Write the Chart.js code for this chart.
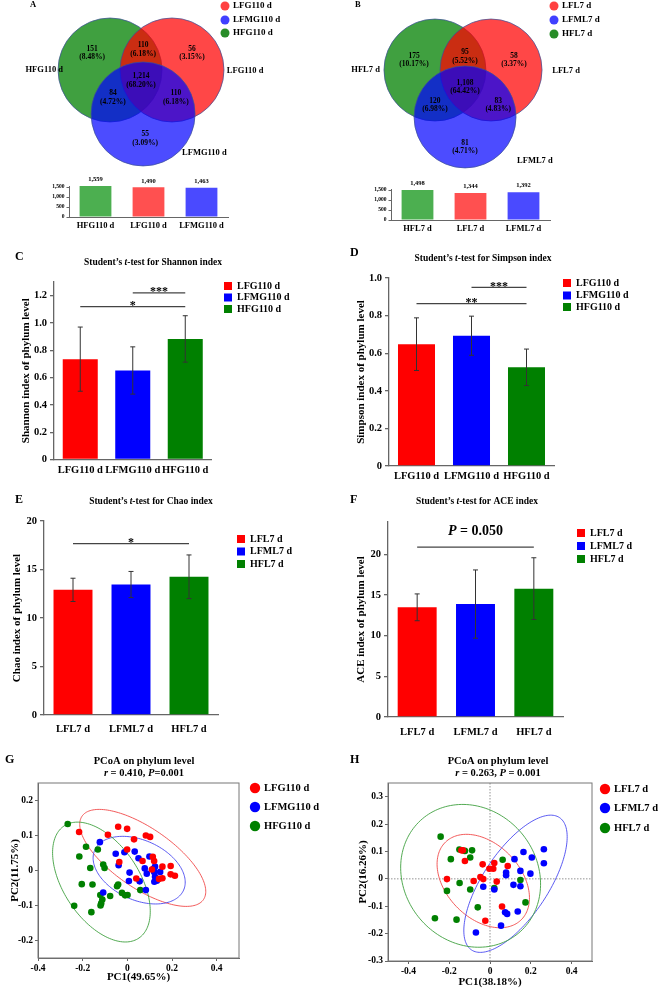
<!DOCTYPE html>
<html><head><meta charset="utf-8">
<script src="https://cdn.jsdelivr.net/npm/chart.js@4.4.1/dist/chart.umd.min.js"></script>
<style>
html,body{margin:0;padding:0;background:#fff;width:660px;height:992px;overflow:hidden;position:relative}
canvas{position:absolute}
</style></head><body>
<script>
// ================= DATA =================
const groups110 = ['LFG110 d', 'LFMG110 d', 'HFG110 d'];
const groups7 = ['LFL7 d', 'LFML7 d', 'HFL7 d'];

const vennA_sets = ['HFG110 d', 'LFG110 d', 'LFMG110 d'];
const vennA_counts = [151, 110, 56, 1214, 84, 110, 55];
const vennA_pct = ['8.48%', '6.18%', '3.15%', '68.20%', '4.72%', '6.18%', '3.09%'];
const vennA_totals = [1559, 1490, 1463];

const vennB_sets = ['HFL7 d', 'LFL7 d', 'LFML7 d'];
const vennB_counts = [175, 95, 58, 1108, 120, 83, 81];
const vennB_pct = ['10.17%', '5.52%', '3.37%', '64.42%', '6.98%', '4.83%', '4.71%'];
const vennB_totals = [1498, 1344, 1392];

const shannonMean = [0.735, 0.652, 0.883];
const shannonSD = [0.235, 0.173, 0.170];
const simpsonMean = [0.648, 0.693, 0.525];
const simpsonSD = [0.140, 0.104, 0.097];
const chaoMean = [12.9, 13.45, 14.25];
const chaoSD = [1.2, 1.35, 2.25];
const aceMean = [13.5, 13.9, 15.8];
const aceSD = [1.65, 4.2, 3.8];

// significance: [from group, to group, bar height value, label]
const sigShannon = [[1, 2, 1.22, '***'], [0, 2, 1.12, '*']];
const sigSimpson = [[1, 2, 0.95, '***'], [0, 2, 0.864, '**']];
const sigChao = [[0, 2, 17.66, '*']];
const sigACE = [[0, 2, 20.9, 'P = 0.050']];

const ticksShannon = [0, 0.2, 0.4, 0.6, 0.8, 1, 1.2];
const ticksSimpson = [0, 0.2, 0.4, 0.6, 0.8, 1];
const ticksChao = [0, 5, 10, 15, 20];
const ticksACE = [0, 5, 10, 15, 20];
const ticksVennBar = [0, 500, 1000, 1500];
const ticksPC1 = [-0.4, -0.2, 0, 0.2, 0.4];
const ticksPC2G = [-0.2, -0.1, 0, 0.1, 0.2];
const ticksPC2H = [-0.3, -0.2, -0.1, 0, 0.1, 0.2, 0.3];

// PCoA 110 d (G)
const pcoaG_LFG_x = [-0.216,-0.041,-0.001,-0.087,0.083,0.102,0.030,-0.001,0.114,0.068,0.120,-0.036,0.157,0.194,0.110,0.194,0.213,0.040,0.157,0.142];
const pcoaG_LFG_y = [0.110,0.125,0.119,0.102,0.100,0.096,0.089,0.060,0.039,0.027,0.027,0.024,0.011,0.013,0.003,-0.011,-0.015,-0.023,-0.022,-0.024];
const pcoaG_LFMG_x = [-0.123,-0.052,-0.013,0.033,-0.039,0.050,0.099,0.078,0.087,0.117,0.124,0.120,0.147,0.124,0.132,0.121,0.010,0.007,0.055,-0.108,0.083];
const pcoaG_LFMG_y = [0.081,0.048,0.052,0.054,0.015,0.035,0.040,0.006,-0.009,0.005,0.011,-0.004,-0.004,-0.018,-0.029,-0.032,-0.006,-0.030,-0.031,-0.063,-0.056];
const pcoaG_HFG_x = [-0.267,-0.185,-0.132,-0.215,-0.166,-0.108,-0.102,-0.204,-0.156,-0.041,-0.046,-0.121,-0.112,-0.120,-0.117,-0.077,-0.024,-0.010,0.001,0.058,-0.238,-0.161];
const pcoaG_HFG_y = [0.133,0.068,0.060,0.040,0.007,0.017,0.007,-0.039,-0.040,-0.040,-0.045,-0.070,-0.083,-0.100,-0.094,-0.073,-0.064,-0.071,-0.070,-0.056,-0.101,-0.119];
// confidence ellipses: [cx, cy, ux, uy, vx, vy]
const ellG_LFG = [0.069, 0.036, 0.272, -0.119, -0.075, -0.071];
const ellG_LFMG = [0.053, 0.001, 0.199, -0.057, -0.054, -0.078];
const ellG_HFG = [-0.116, -0.033, 0.168, -0.160, -0.140, -0.061];

// PCoA 7 d (H)
const pcoaH_LFL_x = [-0.133,-0.140,-0.123,-0.036,0.021,-0.003,0.016,0.087,-0.211,-0.080,-0.047,-0.033,0.033,0.059,-0.023];
const pcoaH_LFL_y = [0.104,0.104,0.065,0.053,0.058,0.037,0.037,0.047,-0.001,-0.008,0.007,-0.001,-0.010,-0.101,-0.153];
const pcoaH_LFML_x = [0.164,0.264,0.205,0.264,0.120,0.079,0.079,0.149,0.198,0.115,0.149,-0.033,0.021,0.074,0.084,0.136,0.054,-0.069];
const pcoaH_LFML_y = [0.098,0.108,0.078,0.057,0.072,0.023,0.013,0.029,0.019,-0.022,-0.027,-0.029,-0.039,-0.122,-0.128,-0.119,-0.171,-0.196];
const pcoaH_HFL_x = [-0.242,-0.150,-0.123,-0.088,-0.192,-0.097,0.062,-0.149,-0.097,-0.211,0.021,0.149,0.174,-0.060,-0.270,-0.164];
const pcoaH_HFL_y = [0.154,0.107,0.102,0.104,0.072,0.078,0.070,-0.015,-0.039,-0.044,-0.034,-0.004,-0.086,-0.104,-0.144,-0.149];
const ellH_LFL = [-0.033, -0.008, 0.184, -0.143, -0.132, -0.093];
const ellH_LFML = [0.125, -0.018, 0.215, 0.242, 0.134, -0.065];
const ellH_HFL = [-0.095, 0.011, 0.227, -0.214, -0.257, -0.149];

// ================= STYLE / LAYOUT =================
const SERIF = "'Liberation Serif','Times New Roman',serif";
Chart.defaults.font.family = SERIF;
Chart.defaults.font.weight = 'bold';
Chart.defaults.color = '#000';
Chart.defaults.animation = false;

const C_RED = '#ff0000', C_BLUE = '#0000ff', C_GREEN = '#008000';
const vennFill = ['rgba(0,128,0,0.75)', 'rgba(255,0,0,0.72)', 'rgba(0,0,255,0.70)'];
const vennLegendCol = ['rgb(255,64,64)', 'rgb(64,64,255)', 'rgb(40,140,40)'];
const vennBarCol = ['#4caf50', '#ff5050', '#4a4aff'];

function mk(x, y, w, h) {
  const c = document.createElement('canvas');
  c.width = w; c.height = h;
  c.style.left = x + 'px'; c.style.top = y + 'px';
  c.style.width = w + 'px'; c.style.height = h + 'px';
  document.body.appendChild(c);
  return c;
}
function F(size, italic) { return (italic ? 'italic ' : '') + 'bold ' + size + 'px ' + SERIF; }
function rich(ctx, parts, x, y, size, align) {
  let total = 0;
  parts.forEach(p => { ctx.font = F(size, p[1]); total += ctx.measureText(p[0]).width; });
  let cx = align === 'center' ? x - total / 2 : (align === 'right' ? x - total : x);
  ctx.textAlign = 'left'; ctx.textBaseline = 'middle'; ctx.fillStyle = '#000';
  parts.forEach(p => { ctx.font = F(size, p[1]); ctx.fillText(p[0], cx, y); cx += ctx.measureText(p[0]).width; });
}
function txt(ctx, s, x, y, size, align) {
  ctx.font = F(size); ctx.textAlign = align || 'center'; ctx.textBaseline = 'middle'; ctx.fillStyle = '#000';
  ctx.fillText(s, x, y);
}
const baseOpts = { responsive: false, animation: false, devicePixelRatio: 1, events: [],
  plugins: { legend: { display: false }, tooltip: { enabled: false } } };

// ---------- Venn ----------
function vennPanel(o) {
  const cv = mk(o.ox, o.oy, o.w, o.h);
  new Chart(cv, {
    type: 'scatter',
    data: { datasets: [{
      data: o.cx.map((x, i) => ({ x, y: o.cy[i] })),
      backgroundColor: vennFill, borderColor: 'rgba(60,80,150,0.9)', borderWidth: 0.8,
      pointRadius: c => { const s = c.chart.scales.x; return s.getPixelForValue(1) - s.getPixelForValue(0); }
    }] },
    options: Object.assign({}, baseOpts, {
      layout: { padding: 0, autoPadding: false },
      scales: { x: { display: false, min: o.xr[0], max: o.xr[1] }, y: { display: false, min: o.yr[0], max: o.yr[1] } }
    }),
    plugins: [{ id: 'venntext', afterDraw(chart) {
      const ctx = chart.ctx, xs = chart.scales.x, ys = chart.scales.y;
      o.counts.forEach((n, i) => {
        const px = xs.getPixelForValue(o.lab[i][0]), py = ys.getPixelForValue(o.lab[i][1]);
        txt(ctx, n.toLocaleString('en-US'), px, py - 4.2, 7.5);
        txt(ctx, '(' + o.pct[i] + ')', px, py + 4.2, 7.5);
      });
      o.sets.forEach((s, i) => {
        const p = o.setPos[i];
        txt(ctx, s, xs.getPixelForValue(p[1]), ys.getPixelForValue(p[2]), 8.5, p[0]);
      });
      ctx.save(); ctx.translate(-o.ox, -o.oy);
      txt(ctx, o.letter, o.letterPos[0], o.letterPos[1], 8.5, 'left');
      o.legend.forEach((s, i) => {
        ctx.beginPath(); ctx.fillStyle = vennLegendCol[i];
        ctx.arc(o.legX, o.legY[i], 4.5, 0, Math.PI * 2); ctx.fill();
        txt(ctx, s, o.legX + 8, o.legY[i], 9, 'left');
      });
      ctx.restore();
    } }]
  });
}
function vennBars(o) {
  const cv = mk(o.ox, o.oy, o.w, o.h);
  new Chart(cv, {
    type: 'bar',
    data: { labels: o.labels, datasets: [{ data: o.values, backgroundColor: vennBarCol, barPercentage: 0.6, categoryPercentage: 1 }] },
    options: Object.assign({}, baseOpts, {
      layout: { padding: { left: 0, top: o.T - o.oy, right: o.ox + o.w - o.R, bottom: 0 } },
      scales: {
        x: { grid: { display: false, drawTicks: false }, border: { color: '#666', width: 1 },
             ticks: { font: { size: 8.5 }, padding: o.xPad, maxRotation: 0, autoSkip: false },
             afterFit: s => { s.height = o.oy + o.h - o.B; } },
        y: { min: 0, max: 1550, afterBuildTicks: s => { s.ticks = ticksVennBar.map(v => ({ value: v })); },
             grid: { drawOnChartArea: false, drawTicks: true, tickLength: 2.5, color: '#666' },
             border: { color: '#666', width: 1 }, ticks: { font: { size: 5.5 }, padding: 2 },
             afterFit: s => { s.width = o.L - o.ox; } }
      }
    }),
    plugins: [{ id: 'vals', afterDraw(chart) {
      const ctx = chart.ctx, xs = chart.scales.x, ys = chart.scales.y;
      o.values.forEach((v, i) => txt(ctx, v.toLocaleString('en-US'), xs.getPixelForValue(i), ys.getPixelForValue(v) - o.valOff, 6.5));
    } }]
  });
}

// ---------- bar panels ----------
function barPanel(o) {
  const cv = mk(o.ox, o.oy, o.w, o.h);
  const colors = [C_RED, C_BLUE, C_GREEN];
  new Chart(cv, {
    type: 'bar',
    data: { labels: o.labels, datasets: [{ data: o.means, backgroundColor: colors, barPercentage: o.barPct, categoryPercentage: 1 }] },
    options: Object.assign({}, baseOpts, {
      layout: { padding: { left: 0, top: o.T - o.oy, right: o.ox + o.w - o.R, bottom: 0 } },
      scales: {
        x: { grid: { display: false, drawTicks: false }, border: { color: '#666', width: 1.3 },
             ticks: { font: { size: 10.5 }, padding: o.xPad, maxRotation: 0, autoSkip: false },
             afterFit: s => { s.height = o.oy + o.h - o.B; } },
        y: { min: 0, max: o.ymax, afterBuildTicks: s => { s.ticks = o.yticks.map(v => ({ value: v })); },
             grid: { drawOnChartArea: false, drawTicks: true, tickLength: 4, color: '#666', lineWidth: 1.3 },
             border: { color: '#666', width: 1.3 }, ticks: { font: { size: 10.5 }, padding: 3 },
             title: { display: true, text: o.ytitle, font: { size: 11 }, padding: { top: o.ytPad, bottom: 0 } },
             afterFit: s => { s.width = o.L - o.ox; } }
      }
    }),
    plugins: [{ id: 'deco', afterDraw(chart) {
      const ctx = chart.ctx, xs = chart.scales.x, ys = chart.scales.y;
      ctx.save();
      ctx.strokeStyle = '#333'; ctx.lineWidth = 1;
      o.means.forEach((m, i) => {
        const px = xs.getPixelForValue(i), y1 = ys.getPixelForValue(m - o.sds[i]), y2 = ys.getPixelForValue(m + o.sds[i]);
        ctx.beginPath(); ctx.moveTo(px, y1); ctx.lineTo(px, y2);
        ctx.moveTo(px - 2.5, y1); ctx.lineTo(px + 2.5, y1); ctx.moveTo(px - 2.5, y2); ctx.lineTo(px + 2.5, y2);
        ctx.stroke();
      });
      o.sig.forEach(sg => {
        const xa = xs.getPixelForValue(sg[0]), xb = xs.getPixelForValue(sg[1]), py = ys.getPixelForValue(sg[2]);
        ctx.strokeStyle = '#444'; ctx.lineWidth = 1.3;
        ctx.beginPath(); ctx.moveTo(xa, py); ctx.lineTo(xb, py); ctx.stroke();
        if (sg[3].startsWith('P')) {
          rich(ctx, [['P', 1], [sg[3].slice(1), 0]], (xa + xb) / 2, py - 16, 14, 'center');
        } else {
          ctx.font = F(12); ctx.textAlign = 'center'; ctx.textBaseline = 'alphabetic'; ctx.fillStyle = '#000';
          ctx.fillText(sg[3], (xa + xb) / 2, py + 2.5);
        }
      });
      ctx.restore();
      ctx.save(); ctx.translate(-o.ox, -o.oy);
      txt(ctx, o.letter, o.letterPos[0], o.letterPos[1], 12, 'left');
      rich(ctx, [['Student\u2019s ', 0], ['t', 1], ['-test for ' + o.index + ' index', 0]], o.titlePos[0], o.titlePos[1], 9.5, 'center');
      o.labels.forEach((s, i) => {
        ctx.fillStyle = colors[i];
        ctx.fillRect(o.legX, o.legY[i] - 4, 8, 8);
        txt(ctx, s, o.legX + 13, o.legY[i], 10, 'left');
      });
      ctx.restore();
    } }]
  });
}

// ---------- PCoA panels ----------
function pcoaPanel(o) {
  const cv = mk(o.ox, o.oy, o.w, o.h);
  const cols = [C_RED, C_BLUE, C_GREEN];
  const ds = o.pts.map((p, i) => ({ label: o.labels[i], data: p[0].map((x, k) => ({ x, y: p[1][k] })),
    backgroundColor: cols[i], borderWidth: 0, pointRadius: 3.3, order: i }));
  new Chart(cv, {
    type: 'scatter',
    data: { datasets: ds },
    options: Object.assign({}, baseOpts, {
      layout: { padding: { left: 0, top: o.T - o.oy, right: o.ox + o.w - o.R, bottom: 0 }, autoPadding: false },
      scales: {
        x: { min: o.xr[0], max: o.xr[1], afterBuildTicks: s => { s.ticks = ticksPC1.map(v => ({ value: v })); },
             grid: { drawOnChartArea: false, drawTicks: true, tickLength: 3, color: '#666' },
             border: { color: '#666', width: 1 }, ticks: { font: { size: 9.5 }, padding: 2, maxRotation: 0 },
             title: { display: true, text: o.xtitle, font: { size: 11 }, padding: { top: 0, bottom: o.xtPad } },
             afterFit: s => { s.height = o.oy + o.h - o.B; } },
        y: { min: o.yr[0], max: o.yr[1], afterBuildTicks: s => { s.ticks = o.yticks.map(v => ({ value: v })); },
             grid: { drawOnChartArea: false, drawTicks: true, tickLength: 3, color: '#666' },
             border: { color: '#666', width: 1 }, ticks: { font: { size: 9.5 }, padding: 2 },
             title: { display: true, text: o.ytitle, font: { size: 11 }, padding: { top: o.ytPad, bottom: 0 } },
             afterFit: s => { s.width = o.L - o.ox; } }
      }
    }),
    plugins: [{ id: 'ell', beforeDatasetsDraw(chart) {
      const ctx = chart.ctx, xs = chart.scales.x, ys = chart.scales.y, a = chart.chartArea;
      ctx.save();
      if (o.zeroLines) {
        ctx.strokeStyle = '#777'; ctx.lineWidth = 0.8; ctx.setLineDash([1.5, 1.5]);
        const x0 = xs.getPixelForValue(0), y0 = ys.getPixelForValue(0);
        ctx.beginPath(); ctx.moveTo(x0, a.top); ctx.lineTo(x0, a.bottom); ctx.moveTo(a.left, y0); ctx.lineTo(a.right, y0); ctx.stroke();
        ctx.setLineDash([]);
      }
      const ecol = ['#f04848', '#4848f0', '#40a040'];
      o.ells.forEach((e, i) => {
        ctx.beginPath();
        for (let k = 0; k <= 160; k++) {
          const t = k / 160 * Math.PI * 2;
          const px = xs.getPixelForValue(e[0] + e[2] * Math.cos(t) + e[4] * Math.sin(t));
          const py = ys.getPixelForValue(e[1] + e[3] * Math.cos(t) + e[5] * Math.sin(t));
          k ? ctx.lineTo(px, py) : ctx.moveTo(px, py);
        }
        ctx.closePath(); ctx.strokeStyle = ecol[i]; ctx.lineWidth = 0.9; ctx.stroke();
      });
      ctx.strokeStyle = '#777'; ctx.lineWidth = 1;
      ctx.strokeRect(a.left, a.top, a.right - a.left, a.bottom - a.top);
      ctx.restore();
    }, afterDraw(chart) {
      const ctx = chart.ctx;
      ctx.save(); ctx.translate(-o.ox, -o.oy);
      txt(ctx, o.letter, o.letterPos[0], o.letterPos[1], 12, 'left');
      txt(ctx, 'PCoA on phylum level', o.titleX, o.titleY, 10.5, 'center');
      rich(ctx, o.sub, o.titleX, o.titleY + 12.5, 10.5, 'center');
      o.labels.forEach((s, i) => {
        ctx.beginPath(); ctx.fillStyle = cols[i];
        ctx.arc(o.legX, o.legY[i], 5.2, 0, Math.PI * 2); ctx.fill();
        txt(ctx, s, o.legX + 9, o.legY[i], 10.5, 'left');
      });
      ctx.restore();
    } }]
  });
}

// ================= BUILD =================
vennPanel({ ox: 0, oy: 0, w: 330, h: 172, xr: [-2.712, 3.635], yr: [-1.962, 1.346],
  cx: [-0.596, 0.596, 0.04], cy: [0, 0, -0.846],
  counts: vennA_counts, pct: vennA_pct,
  lab: [[-0.94, 0.33], [0.04, 0.39], [0.98, 0.33], [0, -0.2], [-0.54, -0.53], [0.67, -0.53], [0.08, -1.32]],
  sets: vennA_sets, setPos: [['right', -1.5, 0], ['left', 1.65, -0.02], ['left', 0.79, -1.6]],
  letter: 'A', letterPos: [30, 5], legend: groups110, legX: 225, legY: [6, 20, 33] });
vennBars({ ox: 0, oy: 172, w: 330, h: 68, L: 69, T: 186, R: 228, B: 217, labels: vennA_sets, values: vennA_totals, xPad: 4, valOff: 6 });

vennPanel({ ox: 330, oy: 0, w: 330, h: 172, xr: [-2.608, 3.863], yr: [-2.0, 1.373],
  cx: [-0.55, 0.55, 0.04], cy: [0, 0, -0.92],
  counts: vennB_counts, pct: vennB_pct,
  lab: [[-0.96, 0.2], [0.04, 0.26], [1.0, 0.2], [0.04, -0.33], [-0.55, -0.69], [0.69, -0.69], [0.04, -1.51]],
  sets: vennB_sets, setPos: [['right', -1.63, 0], ['left', 1.75, -0.02], ['left', 1.06, -1.78]],
  letter: 'B', letterPos: [355, 5], legend: groups7, legX: 554, legY: [6, 20, 34] });
vennBars({ ox: 330, oy: 172, w: 330, h: 68, L: 391, T: 189, R: 550, B: 220, labels: vennB_sets, values: vennB_totals, xPad: 4, valOff: 7 });

barPanel({ ox: 0, oy: 240, w: 330, h: 245, L: 54, T: 282, R: 211.5, B: 459.5, labels: groups110,
  means: shannonMean, sds: shannonSD, ymax: 1.3, yticks: ticksShannon, barPct: 0.667, xPad: 4.5,
  ytitle: 'Shannon index of phylum level', ytPad: 20, sig: sigShannon, index: 'Shannon',
  letter: 'C', letterPos: [15, 257], titlePos: [153, 263], legX: 224, legY: [286, 297.5, 309] });
barPanel({ ox: 330, oy: 240, w: 330, h: 245, L: 389, T: 278, R: 554, B: 466, labels: groups110,
  means: simpsonMean, sds: simpsonSD, ymax: 1, yticks: ticksSimpson, barPct: 0.673, xPad: 4,
  ytitle: 'Simpson index of phylum level', ytPad: 24.4, sig: sigSimpson, index: 'Simpson',
  letter: 'D', letterPos: [350, 253], titlePos: [483, 259], legX: 563, legY: [283, 295.5, 307] });
barPanel({ ox: 0, oy: 485, w: 330, h: 255, L: 44, T: 521, R: 218, B: 715, labels: groups7,
  means: chaoMean, sds: chaoSD, ymax: 20, yticks: ticksChao, barPct: 0.672, xPad: 8,
  ytitle: 'Chao index of phylum level', ytPad: 10.9, sig: sigChao, index: 'Chao',
  letter: 'E', letterPos: [15, 500], titlePos: [151, 502], legX: 237, legY: [539, 551.5, 564] });
barPanel({ ox: 330, oy: 485, w: 330, h: 255, L: 388, T: 522, R: 563, B: 717, labels: groups7,
  means: aceMean, sds: aceSD, ymax: 24, yticks: ticksACE, barPct: 0.668, xPad: 9,
  ytitle: 'ACE index of phylum level', ytPad: 24.9, sig: sigACE, index: 'ACE',
  letter: 'F', letterPos: [350, 500], titlePos: [477, 502], legX: 577, legY: [533, 546, 559] });

pcoaPanel({ ox: 0, oy: 740, w: 330, h: 252, L: 38, T: 783, R: 239, B: 958, xr: [-0.4, 0.5], yr: [-0.25, 0.25],
  yticks: ticksPC2G, labels: groups110,
  pts: [[pcoaG_LFG_x, pcoaG_LFG_y], [pcoaG_LFMG_x, pcoaG_LFMG_y], [pcoaG_HFG_x, pcoaG_HFG_y]],
  ells: [ellG_LFG, ellG_LFMG, ellG_HFG], zeroLines: false,
  xtitle: 'PC1(49.65%)', xtPad: 8.4, ytitle: 'PC2(11.75%)', ytPad: 8.4,
  letter: 'G', letterPos: [5, 760], titleX: 144, titleY: 761,
  sub: [['r', 1], [' = 0.410, ', 0], ['P', 1], ['=0.001', 0]], legX: 255, legY: [788, 807, 826] });
pcoaPanel({ ox: 330, oy: 740, w: 330, h: 252, L: 388, T: 783, R: 592, B: 961, xr: [-0.5, 0.5], yr: [-0.3, 0.35],
  yticks: ticksPC2H, labels: groups7,
  pts: [[pcoaH_LFL_x, pcoaH_LFL_y], [pcoaH_LFML_x, pcoaH_LFML_y], [pcoaH_HFL_x, pcoaH_HFL_y]],
  ells: [ellH_LFL, ellH_LFML, ellH_HFL], zeroLines: true,
  xtitle: 'PC1(38.18%)', xtPad: 3.4, ytitle: 'PC2(16.26%)', ytPad: 26.4,
  letter: 'H', letterPos: [350, 760], titleX: 498, titleY: 761,
  sub: [['r', 1], [' = 0.263, ', 0], ['P', 1], [' = 0.001', 0]], legX: 605, legY: [789, 808, 828] });
</script>
</body></html>
